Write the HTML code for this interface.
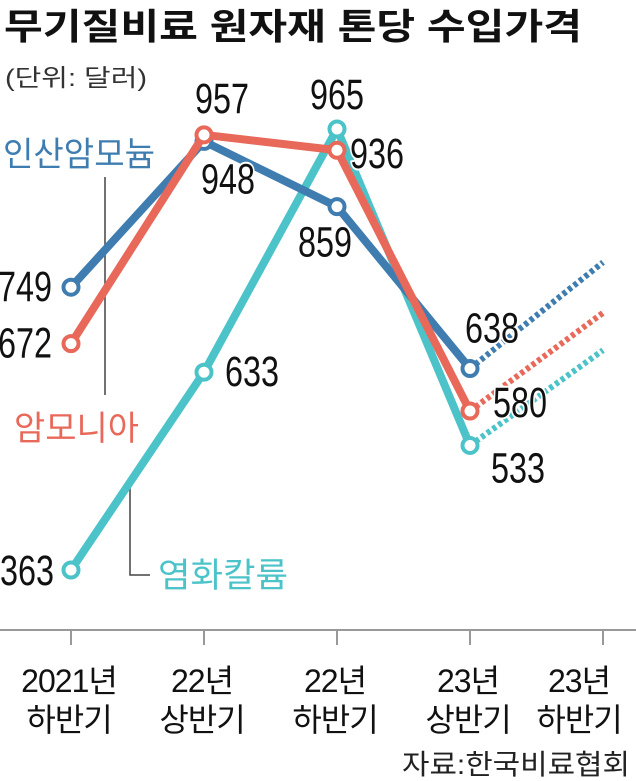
<!DOCTYPE html>
<html><head><meta charset="utf-8">
<style>
body{margin:0;background:#fff;}
svg{display:block;font-family:"Liberation Sans","Noto Sans CJK KR",sans-serif;}
.num{font-family:"Liberation Sans","Noto Sans CJK KR",sans-serif;font-size:43px;font-weight:normal;fill:#111}
.ax{font-size:32px;fill:#111;font-family:"Liberation Sans","Noto Sans CJK KR",sans-serif;letter-spacing:-1px}
</style></head><body>
<svg id="chart" width="636" height="781" viewBox="0 0 636 781">
<text x="4" y="39" font-size="36" font-weight="bold" fill="#111" textLength="578" lengthAdjust="spacingAndGlyphs">무기질비료 원자재 톤당 수입가격</text>
<text x="5" y="86" font-size="24" fill="#333" textLength="142" lengthAdjust="spacingAndGlyphs">(단위: 달러)</text>
<line x1="0" y1="630" x2="636" y2="630" stroke="#999" stroke-width="2"/>
<g id="ticks"></g>
<g id="leaders" stroke="#444" stroke-width="1.5" fill="none">
<line x1="105" y1="177" x2="105" y2="395"/>
<polyline points="130,485 130,575 150,575"/>
</g>
<g id="series"></g>
<g id="labels"></g>
<text x="3" y="166" font-size="34" fill="#3f7db0" textLength="152" lengthAdjust="spacingAndGlyphs">인산암모늄</text>
<text x="14" y="440" font-size="34" fill="#e8695a" textLength="125" lengthAdjust="spacingAndGlyphs">암모니아</text>
<text x="158" y="587" font-size="34" fill="#4cc3c9" textLength="130" lengthAdjust="spacingAndGlyphs">염화칼륨</text>
<text x="630" y="774" text-anchor="end" font-size="28" fill="#222" textLength="228" lengthAdjust="spacingAndGlyphs">자료:한국비료협회</text>
</svg>
<script>
const categories1=["2021년","22년","22년","23년","23년"];
const categories2=["하반기","상반기","하반기","상반기","하반기"];
const blueValues=[749,948,859,638];
const redValues=[672,957,936,580];
const tealValues=[363,633,965,533];
const blueProj=783, redProj=714, tealProj=663;
const NS="http://www.w3.org/2000/svg";
const xs=i=>71+i*133;
const ys=v=>570-(v-363)*0.7326;
function mk(tag,attrs,parent){const e=document.createElementNS(NS,tag);for(const k in attrs)e.setAttribute(k,attrs[k]);parent.appendChild(e);return e;}
const ticks=document.getElementById('ticks');
categories1.forEach((c,i)=>{
 const l=mk('line',{x1:xs(i),y1:630,x2:xs(i),y2:645,stroke:'#999','stroke-width':2},ticks);
 
 
 const lx=(i===categories1.length-1)?xs(i)-24:xs(i)-2;
 const t=mk('text',{x:lx,y:692,'text-anchor':'middle',class:'ax'},ticks);t.textContent=c;
 
 
 const t2=mk('text',{x:lx,y:731,'text-anchor':'middle',class:'ax'},ticks);t2.textContent=categories2[i];
 
 
});
const series=document.getElementById('series');
function draw(vals,proj,color,name){
 const g=mk('g',{},series);
 
 
 const p=mk('line',{x1:xs(3),y1:ys(vals[3]),x2:xs(4),y2:ys(proj),stroke:color,'stroke-width':6,'stroke-dasharray':'4 3'},g);
 
 
 const pl=mk('polyline',{points:vals.map((v,i)=>xs(i)+','+ys(v)).join(' '),fill:'none',stroke:color,'stroke-width':8,'stroke-linejoin':'round'},g);
 
 
 vals.forEach((v,i)=>{
  const c=mk('circle',{cx:xs(i),cy:ys(v),r:7.5,fill:'#fff',stroke:color,'stroke-width':4},g);
  
  
 });
}
draw(tealValues,tealProj,'#4cc3c9','potassium-chloride');
draw(blueValues,blueProj,'#3f7db0','ammonium-phosphate');
draw(redValues,redProj,'#e8695a','ammonia');
const labels=document.getElementById('labels');
const labelSpecs=[
 [blueValues,[[-46,14],[24,52],[-12,50],[22,-26]]],
 [redValues,[[-46,14],[18,-22],[40,18],[50,6]]],
 [tealValues,[[-44,15],[48,14],[0,-20],[48,37]]]
];
labelSpecs.forEach(([vals,offs])=>{
 vals.forEach((v,i)=>{
  const cx=xs(i)+offs[i][0];
  const t=mk('text',{x:cx-27,y:ys(v)+offs[i][1],class:'num',textLength:54,lengthAdjust:'spacingAndGlyphs',stroke:'#fff','stroke-width':4,'paint-order':'stroke'},labels);
  t.textContent=v;
  
  
 });
});
</script>
</body></html>
